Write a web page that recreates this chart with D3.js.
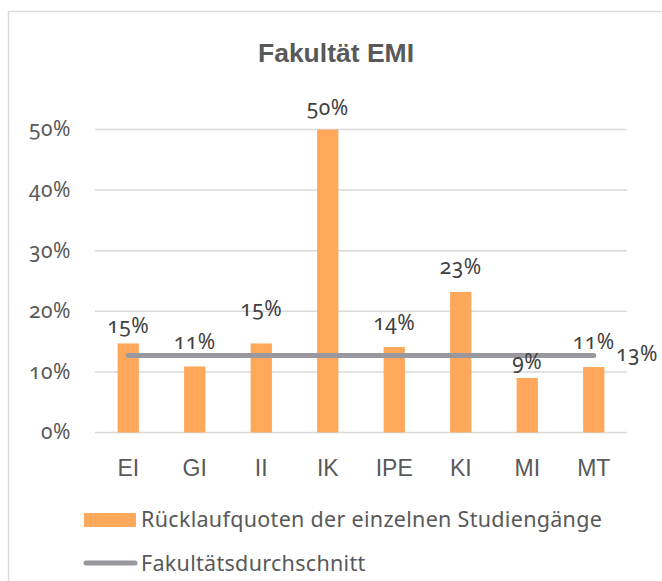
<!DOCTYPE html>
<html>
<head>
<meta charset="utf-8">
<script src="https://cdn.jsdelivr.net/npm/d3@7"></script>
<style>
  html, body { margin: 0; padding: 0; background: #fff; }
  svg { display: block; }
  .num { font-family: "Noto Sans", sans-serif; font-feature-settings: "onum" 1; }
</style>
</head>
<body>
<div id="chart"></div>
<script>
// Daten
const categories = ['EI', 'GI', 'II', 'IK', 'IPE', 'KI', 'MI', 'MT'];
const quoten = [0.147, 0.109, 0.147, 0.50, 0.141, 0.232, 0.090, 0.108];
const durchschnitt = 0.127;
const yTicks = [0, 0.1, 0.2, 0.3, 0.4, 0.5];
const seriesNames = ['Rücklaufquoten der einzelnen Studiengänge', 'Fakultätsdurchschnitt'];
// Abstand der Datenbeschriftung über dem Balken (px), wie im Original verschoben
const labelLift = [10, 17, 27, 15, 17, 18, 9, 18];

document.addEventListener('DOMContentLoaded', function(){
    const width = 662, height = 581;
    const orange = '#ffa85b', grau = '#98989e', textCol = '#595959', labelCol = '#404040';

    const svg = d3.select('#chart').append('svg').attr('width', width).attr('height', height);

    // Rahmen (nur links und oben sichtbar)
    svg.append('rect').attr('x', 8.5).attr('y', 11.5).attr('width', 700).attr('height', 700)
        .attr('fill', 'none').attr('stroke', '#d9d9d9').attr('stroke-width', 1.5);

    const x = d3.scaleBand().domain(categories).range([95, 627]).paddingInner(0.68).paddingOuter(0.34);
    const y = d3.scaleLinear().domain([0, 0.5]).range([432.5, 129.5]);
    const pct = d3.format('.0%');

    svg.append('text').attr('x', 336).attr('y', 62).attr('text-anchor', 'middle')
        .attr('font-family', '"Liberation Sans Narrow", sans-serif').attr('font-weight', 'bold')
        .attr('font-size', 26.5).attr('fill', textCol).text('Fakultät EMI');

    // Gitterlinien
    svg.append('g').selectAll('line').data(yTicks).enter().append('line')
        .attr('x1', 95).attr('x2', 627).attr('y1', d => y(d)).attr('y2', d => y(d))
        .attr('stroke', '#d9d9d9').attr('stroke-width', 1.5);

    // y-Achse
    const yAxis = svg.append('g').attr('transform', 'translate(71,0)')
        .call(d3.axisLeft(y).tickValues(yTicks).tickFormat(pct).tickSize(0).tickPadding(0));
    yAxis.select('.domain').remove();
    yAxis.selectAll('text').attr('class', 'num').attr('font-size', 21).attr('fill', textCol)
        .attr('letter-spacing', 0.5).attr('dy', '0.3em');

    // x-Achse
    const xAxis = svg.append('g').attr('transform', 'translate(0,476)')
        .call(d3.axisBottom(x).tickSize(0).tickPadding(0));
    xAxis.select('.domain').remove();
    xAxis.selectAll('text').attr('font-family', '"Liberation Sans Narrow", sans-serif')
        .attr('font-size', 23).attr('fill', textCol).attr('dy', 0);

    // Balken
    svg.append('g').selectAll('rect').data(quoten).enter().append('rect')
        .attr('x', (d, i) => x(categories[i])).attr('width', x.bandwidth())
        .attr('y', d => y(d)).attr('height', d => y(0) - y(d)).attr('fill', orange);

    // Durchschnittslinie
    const cx = c => x(c) + x.bandwidth() / 2;
    const line = d3.line().x(d => cx(d)).y(() => y(durchschnitt));
    svg.append('path').datum(categories).attr('d', line).attr('fill', 'none')
        .attr('stroke', grau).attr('stroke-width', 5).attr('stroke-linecap', 'round');

    // Beschriftungen
    svg.append('g').selectAll('text').data(quoten).enter().append('text')
        .attr('class', 'num').attr('x', (d, i) => cx(categories[i])).attr('y', (d, i) => y(d) - labelLift[i])
        .attr('text-anchor', 'middle').attr('font-size', 21).attr('letter-spacing', 0.5)
        .attr('fill', labelCol).text(d => pct(d));

    svg.append('text').attr('class', 'num').attr('x', 616).attr('y', y(durchschnitt) + 5)
        .attr('font-size', 21).attr('letter-spacing', 0.5).attr('fill', labelCol).text(pct(durchschnitt));

    // Legende
    const leg = svg.append('g').attr('font-family', '"Noto Sans", sans-serif').attr('font-size', 21.5)
        .attr('letter-spacing', 0.3).attr('fill', textCol);
    leg.append('rect').attr('x', 84).attr('y', 513).attr('width', 52).attr('height', 14).attr('fill', orange);
    leg.append('text').attr('x', 141).attr('y', 527).text(seriesNames[0]);
    leg.append('line').attr('x1', 86).attr('x2', 135).attr('y1', 563).attr('y2', 563)
        .attr('stroke', grau).attr('stroke-width', 5).attr('stroke-linecap', 'round');
    leg.append('text').attr('x', 141).attr('y', 571).text(seriesNames[1]);
});
</script>
</body>
</html>
